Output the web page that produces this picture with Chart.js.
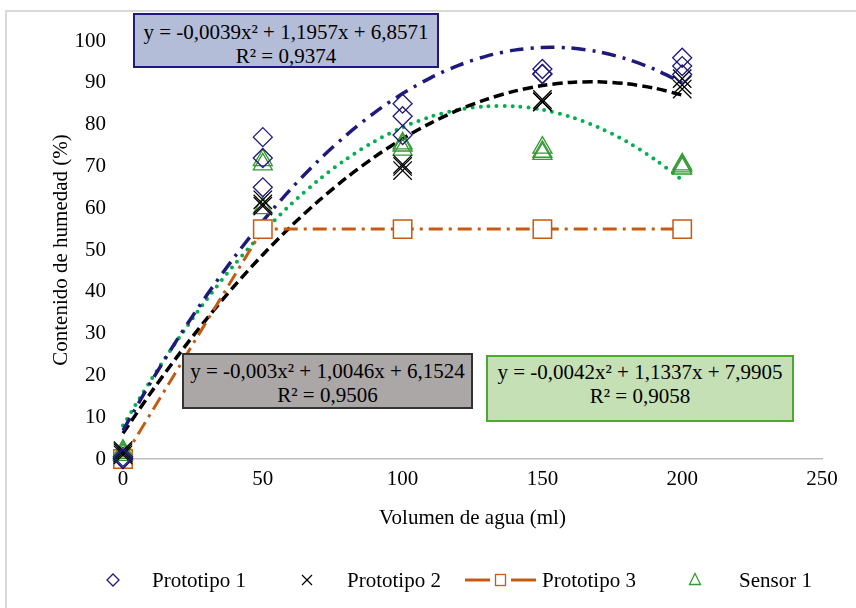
<!DOCTYPE html>
<html>
<head>
<meta charset="utf-8">
<script src="https://cdn.jsdelivr.net/npm/chart.js@4.4.0/dist/chart.umd.min.js"></script>
<style>
  body { margin: 0; background: #fff; }
  #wrap { position: relative; width: 856px; height: 608px; overflow: hidden; font-family: "Liberation Serif", "Times New Roman", serif; }
  #frame { position: absolute; left: 5px; top: 10px; width: 900px; height: 700px; border: 2px solid #d9d9d9; }
  canvas { position: absolute; left: 0; top: 0; }
  .eq { position: absolute; box-sizing: border-box; text-align: center; font-size: 21px; line-height: 24px; color: #000; white-space: nowrap; }
  .leg { position: absolute; top: 567px; font-size: 21px; line-height: 26px; color: #000; white-space: nowrap; }
  .sym { position: absolute; }
</style>
</head>
<body>
<div id="wrap">
  <div id="frame"></div>
  <canvas id="chart" width="856" height="608"></canvas>

  <div class="eq" style="left:133px; top:13px; width:306px; height:55px; padding-top:5px; background:#b4bdd8; border:2px solid #1f1a7a;">y = -0,0039x² + 1,1957x + 6,8571<br>R² = 0,9374</div>
  <div class="eq" style="left:182px; top:353px; width:291px; height:56px; padding-top:4px; background:#aba7a7; border:2px solid #333;">y = -0,003x² + 1,0046x + 6,1524<br>R² = 0,9506</div>
  <div class="eq" style="left:486px; top:355px; width:308px; height:67px; padding-top:3px; background:#c5e0b4; border:2px solid #4ea72e;">y = -0,0042x² + 1,1337x + 7,9905<br>R² = 0,9058</div>

  <svg class="sym" style="left:106px; top:573px" width="14" height="14"><path d="M7 1 L13 7 L7 13 L1 7 Z" fill="none" stroke="#1f1a7a" stroke-width="1.3"/></svg>
  <div class="leg" style="left:152px">Prototipo 1</div>
  <svg class="sym" style="left:300px; top:573px" width="14" height="14"><path d="M2 2 L12 12 M12 2 L2 12" stroke="#000" stroke-width="1.2"/></svg>
  <div class="leg" style="left:347px">Prototipo 2</div>
  <svg class="sym" style="left:464px; top:572px" width="74" height="16"><path d="M1 8 L26 8 M47 8 L72 8" stroke="#c55a11" stroke-width="3"/><rect x="31.5" y="2.5" width="10" height="11" fill="#fff" stroke="#c55a11" stroke-width="1.3"/></svg>
  <div class="leg" style="left:542px">Prototipo 3</div>
  <svg class="sym" style="left:688px; top:572px" width="14" height="14"><path d="M7 1.5 L12.5 12.5 L1.5 12.5 Z" fill="none" stroke="#339933" stroke-width="1.3"/></svg>
  <div class="leg" style="left:739px">Sensor 1</div>
</div>

<script>
// volumen de agua (ml) where the samples were taken
const volumes = [0, 50, 100, 150, 200];

// three readings per volume
const proto1 = [[0, 0.5, 0], [77, 72, 65], [85, 82, 77.5], [93.3, 92.1, 92.1], [96, 94, 92]];
const proto2 = [[2, 1.5, 1], [62, 61, 60.5], [70.5, 70, 69], [86, 85.5, 85.4], [91, 89.5, 88.5]];
const proto3 = [0, 55, 55, 55, 55];
const sensor1 = [[1.5, 1, 2], [71.5, 70.5, 60], [75.5, 75, 74], [74.5, 73.5, 73], [70.5, 70, 69.5]];

// trendline curves as drawn (polynomial, order 2), sampled every 10 ml
const trendX = [0, 10, 20, 30, 40, 50, 60, 70, 80, 90, 100, 110, 120, 130, 140, 150, 160, 170, 180, 190, 200];
const trend1 = [6.86, 18.42, 29.21, 39.22, 48.45, 56.89, 64.56, 71.45, 77.55, 82.88, 87.43, 91.19, 94.18, 96.39, 97.82, 98.46, 98.33, 97.42, 95.72, 93.25, 90.0];
const trend2 = [6.15, 15.9, 25.04, 33.59, 41.54, 48.88, 55.63, 61.77, 67.32, 72.27, 76.61, 80.36, 83.5, 86.05, 88.0, 89.34, 90.09, 90.23, 89.78, 88.73, 87.07];
const trendS = [7.99, 18.91, 28.98, 38.22, 46.62, 54.18, 60.89, 66.77, 71.81, 76.0, 79.36, 81.88, 83.55, 84.39, 84.39, 83.55, 81.86, 79.34, 75.98, 71.77, 66.73];

const xTicks = [0, 50, 100, 150, 200, 250];

function toPoints(reps) {
    const pts = [];
    reps.forEach(function(vals, i) {
        vals.forEach(function(v) { pts.push({ x: volumes[i], y: v }); });
    });
    return pts;
}
function toLine(xs, ys) {
    return xs.map(function(x, i) { return { x: x, y: ys[i] }; });
}

const serif = "'Liberation Serif', 'Times New Roman', serif";
const ctx = document.getElementById("chart").getContext("2d");

new Chart(ctx, {
    type: "scatter",
    data: {
        datasets: [
            { label: "Prototipo 1", data: toPoints(proto1), pointStyle: "rectRot", pointRadius: 9.5, clip: false,
              borderColor: "#1f1a7a", backgroundColor: "transparent", pointBorderWidth: 1.3 },
            { label: "Prototipo 2", data: toPoints(proto2), pointStyle: "crossRot", pointRadius: 13, clip: false,
              borderColor: "#000", backgroundColor: "transparent", pointBorderWidth: 1.3 },
            { label: "Sensor 1", data: toPoints(sensor1), pointStyle: "triangle", pointRadius: 11, clip: false,
              borderColor: "#339933", backgroundColor: "transparent", pointBorderWidth: 1.3 },
            { label: "Prototipo 3", data: toLine(volumes, proto3), showLine: true, pointStyle: "rect", pointRadius: 13, clip: false,
              borderColor: "#c55a11", backgroundColor: "#fff", pointBackgroundColor: "#fff", pointBorderWidth: 1.5,
              borderWidth: 3, borderDash: [14, 6, 3, 6] },
            { label: "trend1", data: toLine(trendX, trend1), showLine: true, pointRadius: 0, tension: 0.3, clip: false,
              borderColor: "#1f1a7a", borderWidth: 3.5, borderDash: [14, 7, 3, 7] },
            { label: "trend2", data: toLine(trendX, trend2), showLine: true, pointRadius: 0, tension: 0.3, clip: false,
              borderColor: "#000", borderWidth: 3.5, borderDash: [10, 5] },
            { label: "trendS", data: toLine(trendX, trendS), showLine: true, pointRadius: 0, tension: 0.3, clip: false,
              borderColor: "#00b050", borderWidth: 4, borderDash: [0, 8], borderCapStyle: "round" }
        ]
    },
    options: {
        responsive: false,
        animation: false,
        layout: { padding: { left: 0, top: 41, right: 34, bottom: 69 } },
        plugins: { legend: { display: false }, tooltip: { enabled: false } },
        scales: {
            x: {
                type: "linear", min: 0, max: 250,
                afterBuildTicks: function(s) { s.ticks = xTicks.map(function(v) { return { value: v }; }); },
                afterFit: function(s) { s.height = 80; },
                ticks: { color: "#000", padding: 8, font: { family: serif, size: 21 } },
                grid: { display: false, drawTicks: false },
                border: { display: true, color: "#bfbfbf", width: 1.5 },
                title: { display: true, text: "Volumen de agua (ml)", color: "#000",
                         font: { family: serif, size: 21 }, padding: { top: 0, bottom: 8 } }
            },
            y: {
                min: 0, max: 100,
                afterFit: function(s) { s.width = 123; },
                ticks: { stepSize: 10, color: "#000", padding: 17, font: { family: serif, size: 21 } },
                grid: { display: false, drawTicks: false },
                border: { display: false },
                title: { display: true, text: "Contenido de humedad (%)", color: "#000",
                         font: { family: serif, size: 21 }, padding: { top: 49, bottom: 0 } }
            }
        }
    }
});
</script>
</body>
</html>
